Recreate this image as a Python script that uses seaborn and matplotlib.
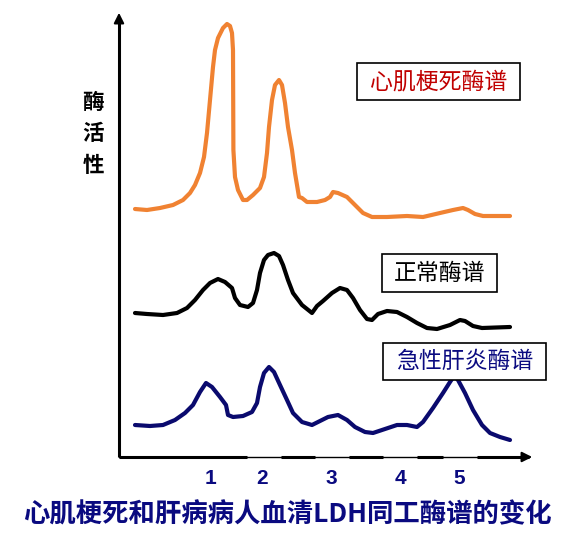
import numpy as np
import pandas as pd
import matplotlib
matplotlib.use("Agg")
import matplotlib.pyplot as plt
from matplotlib.patches import Rectangle
import seaborn as sns

# ---- data (arbitrary units: migration distance vs. enzyme activity) ----
mi_x = [16, 28, 41, 54, 64, 71, 76, 81, 85, 88, 91, 94, 96, 99, 104, 108, 111, 113, 114, 114.2,
        114.4, 116, 119, 124, 128, 134, 141, 145, 148, 150, 153, 156, 160, 163, 166, 169, 173,
        176, 180, 183, 188, 198, 206, 211, 214, 219, 228, 236, 244, 253, 268, 288, 304, 321,
        334, 344, 349, 356, 364, 391]
mi_y = [248, 247, 249, 252, 257, 264, 272, 284, 300, 324, 357, 390, 407, 419, 429, 433, 431, 424,
        407, 357, 307, 280, 267, 257, 257, 262, 269, 280, 304, 330, 357, 372, 377, 372, 354, 330,
        307, 284, 260, 259, 255, 255, 257, 260, 265, 264, 260, 252, 244, 240, 240, 241, 240, 244,
        247, 249, 247, 243, 241, 241]

norm_x = [16, 28, 44, 58, 68, 76, 84, 91, 99, 106, 113, 116, 121, 129, 134, 138, 141, 145, 149,
          155, 160, 164, 169, 174, 183, 193, 198, 204, 213, 221, 228, 234, 241, 248, 253, 259,
          268, 278, 288, 298, 308, 318, 331, 341, 346, 354, 363, 391]
norm_y = [144, 143, 142, 144, 149, 157, 167, 174, 178, 175, 169, 159, 152, 150, 154, 167, 184,
          197, 202, 204, 201, 192, 177, 164, 152, 144, 151, 156, 164, 169, 167, 159, 147, 138,
          137, 143, 146, 145, 140, 134, 129, 128, 132, 137, 136, 131, 129, 130]

hep_x = [16, 31, 44, 56, 66, 74, 81, 87, 93, 101, 107, 109, 114, 124, 133, 138, 141, 145, 150,
         155, 161, 168, 174, 183, 193, 201, 209, 219, 228, 236, 246, 254, 266, 278, 288, 298,
         304, 314, 324, 331, 335, 339, 346, 354, 363, 371, 381, 391]
hep_y = [32, 31, 32, 37, 44, 52, 65, 74, 70, 60, 52, 42, 40, 41, 45, 54, 70, 84, 90, 85, 72, 57,
         44, 35, 32, 36, 40, 42, 37, 30, 25, 24, 28, 32, 32, 30, 35, 49, 64, 75, 81, 77, 64, 47,
         32, 24, 20, 17]

band_pos = [92, 143, 212, 281, 340]
band_labels = ["1", "2", "3", "4", "5"]

series_names = ["心肌梗死酶谱", "正常酶谱", "急性肝炎酶谱"]
series_colors = ["#F08232", "#000000", "#0A0A6E"]
label_colors = ["#C00000", "#000000", "#0A0A80"]
title = "心肌梗死和肝病病人血清LDH同工酶谱的变化"
ylabel_chars = ["酶", "活", "性"]

# ---- figure ----
W, H = 572, 546
sns.set_style("white")
plt.rcParams['font.family'] = ['Noto Sans CJK SC', 'DejaVu Sans']
fig = plt.figure(figsize=(W / 100, H / 100), dpi=100)

ax_l, ax_r, ax_b, ax_t = 119, 535, 457, 10
ax = fig.add_axes([ax_l / W, 1 - ax_b / H, (ax_r - ax_l) / W, (ax_b - ax_t) / H])
ax.set_xlim(0, ax_r - ax_l)
ax.set_ylim(0, ax_b - ax_t)
for s in ax.spines.values():
    s.set_visible(False)

frames = []
for name, xs, ys in zip(series_names, [mi_x, norm_x, hep_x], [mi_y, norm_y, hep_y]):
    frames.append(pd.DataFrame({"x": xs, "y": ys, "series": name}))
df = pd.concat(frames, ignore_index=True)

sns.lineplot(data=df, x="x", y="y", hue="series", palette=dict(zip(series_names, series_colors)),
             sort=False, estimator=None, linewidth=3.0, legend=False, ax=ax,
             solid_joinstyle="round", solid_capstyle="round")

# axes lines with arrows
T = ax.transAxes
ax.plot([0, 0], [0, 0.985], color="black", lw=2.2, transform=T, clip_on=False,
        solid_capstyle="butt")
ax.annotate("", xy=(0, 1.0), xytext=(0, 0.97), xycoords=T, textcoords=T,
            arrowprops=dict(arrowstyle="-|>,head_length=0.6,head_width=0.3", color="black", lw=1.5))
ax.plot([0, 0.985], [0, 0], color="black", lw=1.0, transform=T, clip_on=False)
xw = ax_r - ax_l
for a, b in [(0, 128), (162, 196), (230, 264), (298, 324), (358, 410)]:
    ax.plot([a / xw, b / xw], [0, 0], color="black", lw=2.2, transform=T, clip_on=False,
            solid_capstyle="butt")
ax.annotate("", xy=(1.0, 0), xytext=(0.97, 0), xycoords=T, textcoords=T,
            arrowprops=dict(arrowstyle="-|>,head_length=0.6,head_width=0.3", color="black", lw=1.5))

ax.set_xticks(band_pos)
ax.set_xticklabels(band_labels, fontfamily="Liberation Sans", fontweight="bold",
                   fontsize=15, color="#0A0A80")
ax.tick_params(axis="x", length=0, pad=9)
ax.set_yticks([])
ax.set_xlabel("")
ax.set_ylabel("")

# y label (vertical stacked characters)
for ch, yy in zip(ylabel_chars, [102, 133, 165]):
    fig.text(93 / W, 1 - yy / H, ch, ha="center", va="center", fontsize=15.5,
             fontweight="bold", color="black")

# series label boxes
boxes = [(357, 63, 520, 100), (382, 254, 497, 292), (383, 343, 546, 380)]
for name, col, (x0, y0, x1, y1) in zip(series_names, label_colors, boxes):
    fig.patches.append(Rectangle((x0 / W, 1 - y1 / H), (x1 - x0) / W, (y1 - y0) / H,
                                 transform=fig.transFigure, fill=True, facecolor="white",
                                 edgecolor="black", lw=1.2, zorder=5))
    fig.text((x0 + x1) / 2 / W, 1 - (y0 + y1) / 2 / H, name, ha="center", va="center",
             fontsize=16.5, color=col, zorder=6)

# title
fig.text(287 / W, 1 - 515 / H, title, ha="center", va="center", fontsize=19,
         fontweight="bold", color="#0A0A80")

fig.savefig("out.png", dpi=100, facecolor="white")
